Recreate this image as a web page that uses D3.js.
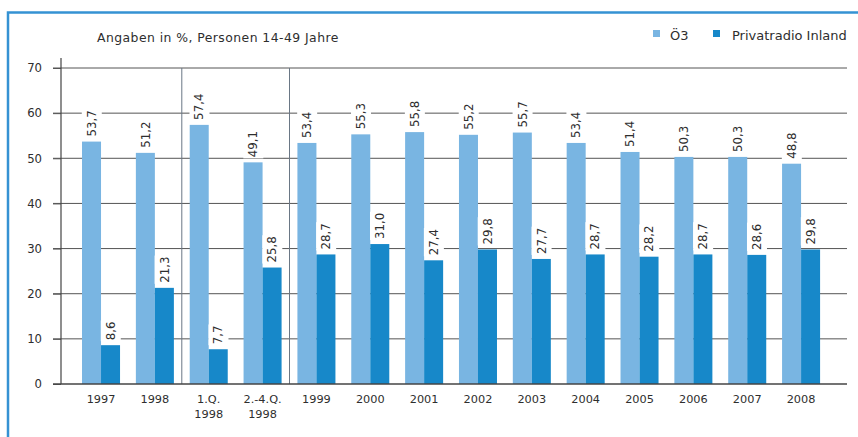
<!DOCTYPE html>
<html><head><meta charset="utf-8">
<script src="https://cdn.jsdelivr.net/npm/d3@7"></script>
<style>body{margin:0;background:#fff}svg{display:block}text{font-family:"DejaVu Sans",sans-serif;fill:#2e2e2e}</style>
</head><body><svg id="c" width="858" height="437"></svg>
<script>
const categories = [["1997"],["1998"],["1.Q.","1998"],["2.-4.Q.","1998"],["1999"],["2000"],["2001"],["2002"],["2003"],["2004"],["2005"],["2006"],["2007"],["2008"]];
const seriesNames = ["Ö3","Privatradio Inland"];
const oe3 = [53.7,51.2,57.4,49.1,53.4,55.3,55.8,55.2,55.7,53.4,51.4,50.3,50.3,48.8];
const privat = [8.6,21.3,7.7,25.8,28.7,31.0,27.4,29.8,27.7,28.7,28.2,28.7,28.6,29.8];
const yTicks = [0,10,20,30,40,50,60,70];
const title = "Angaben in %, Personen 14-49 Jahre";
const separatorsAfter = [1,3];

const colors = ["#79b5e2","#1788c9"];
const svg = d3.select("#c");
const keys = categories.map((c,i)=>i);
const x = d3.scaleBand().domain(keys).range([74.1, 74.1+14*53.85]).paddingInner(0.294).paddingOuter(0.147);
const x1 = d3.scaleBand().domain([0,1]).range([0, x.bandwidth()]);
const y = d3.scaleLinear().domain([0,70]).range([384,68]);

// frame
svg.append("rect").attr("x",8).attr("y",12.5).attr("width",900).attr("height",500)
  .attr("fill","none").attr("stroke","#3592d3").attr("stroke-width",2.5);

// gridlines
svg.append("g").selectAll("line").data(yTicks.filter(d=>d>0)).join("line")
  .attr("x1",53).attr("x2",847).attr("y1",d=>y(d)).attr("y2",d=>y(d))
  .attr("stroke","#555").attr("stroke-width",1);
// y axis
const yAxis = svg.append("g").attr("transform","translate(61,0)")
  .call(d3.axisLeft(y).tickValues(yTicks).tickSize(8).tickPadding(11).tickFormat(d3.format("d")));
yAxis.select(".domain").remove();
yAxis.selectAll(".tick line").attr("stroke","#555");
yAxis.selectAll(".tick text").attr("font-size","11.7px").attr("fill","#2e2e2e");
svg.append("line").attr("x1",61).attr("x2",61).attr("y1",58).attr("y2",384).attr("stroke","#444").attr("stroke-width",1.2);

// separators
const step = x.step();
separatorsAfter.forEach(i=>{
  const sx = x(i) + x.bandwidth()/2 + step/2;
  svg.append("line").attr("x1",sx).attr("x2",sx).attr("y1",y(70)).attr("y2",y(0))
    .attr("stroke","#6a7785").attr("stroke-width",1);
});

// bars
const series = [oe3, privat];
const bars = svg.append("g");
series.forEach((vals,s)=>{
  bars.selectAll(null).data(vals).join("rect")
    .attr("x",(d,i)=>x(i)+x1(s)).attr("width",x1.bandwidth())
    .attr("y",d=>y(d)).attr("height",d=>y(0)-y(d)).attr("fill",colors[s]);
});

// baseline
svg.append("line").attr("x1",53).attr("x2",847).attr("y1",y(0)).attr("y2",y(0)).attr("stroke","#444").attr("stroke-width",1.5);

// value labels
const fmt = v => d3.format(".1f")(v).replace(".",",");
series.forEach((vals,s)=>{
  vals.forEach((v,i)=>{
    const cx = x(i)+x1(s)+x1.bandwidth()/2;
    const g = svg.append("g").attr("transform",`translate(${cx},${y(v)-5}) rotate(-90)`);
    const r = g.append("rect").attr("fill","#fff");
    const t = g.append("text").attr("x",0).attr("dy","0.36em").attr("font-size","11.8px").text(fmt(v));
    const b = t.node().getBBox();
    r.attr("x",b.x-1).attr("y",b.y-3).attr("width",b.width+2).attr("height",b.height+6);
  });
});

// x labels
categories.forEach((lines,i)=>{
  const t = svg.append("text").attr("x",x(i)+x.bandwidth()/2).attr("y",403).attr("text-anchor","middle").attr("font-size","11.3px");
  lines.forEach((l,j)=>t.append("tspan").attr("x",x(i)+x.bandwidth()/2).attr("y",403+j*15).text(l));
});

// title
svg.append("text").attr("x",97).attr("y",42).attr("font-size","12.4px").attr("letter-spacing","0.45px").text(title);

// legend
const lg = [{x:653,tx:670},{x:713,tx:732}];
seriesNames.forEach((n,s)=>{
  svg.append("rect").attr("x",lg[s].x).attr("y",30).attr("width",7).attr("height",7).attr("fill",colors[s]);
  svg.append("text").attr("x",lg[s].tx).attr("y",40).attr("font-size","13px").text(n);
});
</script></body></html>
